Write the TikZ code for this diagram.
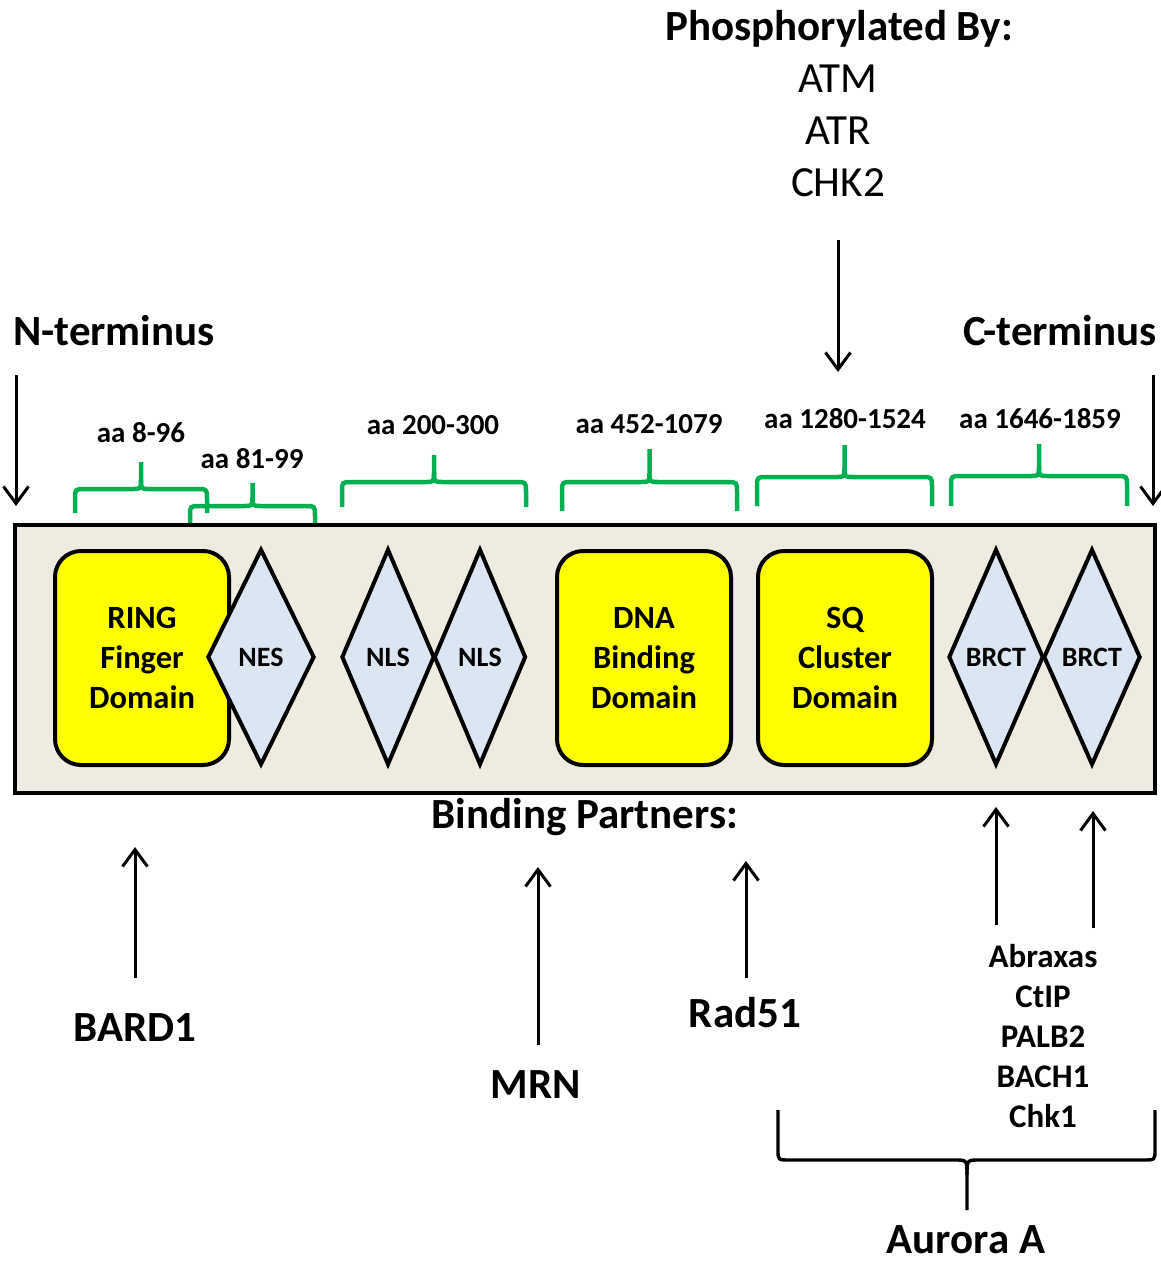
\documentclass[tikz,border=0pt]{standalone}
\usepackage{fontspec}
\setmainfont{Carlito}
\usetikzlibrary{shapes.geometric,arrows.meta}
\definecolor{protfill}{HTML}{EEECE1}
\definecolor{motiffill}{HTML}{DCE6F2}
\definecolor{bracegreen}{HTML}{00B050}
\definecolor{domyellow}{HTML}{FFFF00}
\tikzset{
  bigbold/.style={font=\fontsize{43}{48}\selectfont\bfseries, anchor=base, inner sep=0pt},
  kinase/.style={font=\fontsize{43}{48}\selectfont, anchor=base, inner sep=0pt},
  aalabel/.style={font=\fontsize{29}{32}\selectfont\bfseries, anchor=base, inner sep=0pt},
  domainbox/.style={draw, line width=4pt, fill=domyellow, rounded corners=26pt,
    minimum width=174pt, minimum height=214pt, inner sep=0pt, align=center,
    font=\fontsize{32.5}{40}\selectfont\bfseries},
  motif/.style={draw, line width=4pt, fill=motiffill, diamond, aspect=0.5, inner sep=0pt,
    minimum height=216pt, font=\fontsize{28}{32}\selectfont\bfseries},
  arr/.style={line width=3pt, -{Straight Barb[length=17pt,width=25pt]}},
  gbrace/.style={draw=bracegreen, line width=4.5pt, line join=round},
  kbrace/.style={draw=black, line width=3.4pt, line join=round},
}
\newcommand{\GreenBrace}[5]{% x1 x2 ybottom yflat ytip
  \pgfmathsetmacro{\xm}{(#1+#2)/2}
  \draw[gbrace] (#1,#3) -- (#1,#4+10) .. controls (#1,#4) .. (#1+10,#4)
    -- (\xm-9,#4) .. controls (\xm,#4) .. (\xm,#4-9) -- (\xm,#5);
  \draw[gbrace] (#2,#3) -- (#2,#4+10) .. controls (#2,#4) .. (#2-10,#4)
    -- (\xm+9,#4) .. controls (\xm,#4) .. (\xm,#4-9);
}
\begin{document}
\begin{tikzpicture}[x=1pt,y=-1pt]
\useasboundingbox (0,0) rectangle (1161,1262);

% phosphorylation
\node[bigbold] (phos) at (839,40) {Phosphorylated By:};
\node[kinase] (atm) at (838,92) {ATM};
\node[kinase] (atr) at (838,144) {ATR};
\node[kinase] (chk2) at (838,196) {CHK2};
\coordinate (phosA) at (838,240);
\coordinate (phosB) at (838,372);
\draw[arr] (phosA) -- (phosB);

% termini
\node[bigbold] (nterm) at (114,345) {N-terminus};
\node[bigbold] (cterm) at (1060,345) {C-terminus};
\coordinate (nA) at (16,375);
\coordinate (nB) at (16,506);
\coordinate (cA) at (1153,375);
\coordinate (cB) at (1153,506);
\draw[arr] (nA) -- (nB);
\draw[arr] (cA) -- (cB);

% protein
\node[draw, line width=4.4pt, fill=protfill, minimum width=1140pt, minimum height=268pt, inner sep=0pt] (prot) at (585,659) {};
\node[domainbox] (ring) at (142,658) {RING\\Finger\\Domain};
\node[motif, minimum width=107pt] (nes) at (261,657) {NES};
\node[motif, minimum width=93pt] (nls1) at (388,657) {NLS};
\node[motif, minimum width=92pt] (nls2) at (480,657) {NLS};
\node[domainbox] (dna) at (644,658) {DNA\\Binding\\Domain};
\node[domainbox] (sq) at (845,658) {SQ\\Cluster\\Domain};
\node[motif, minimum width=95pt] (brct1) at (996,657) {BRCT};
\node[motif, minimum width=97pt] (brct2) at (1092,657) {BRCT};

% amino-acid ranges
\GreenBrace{75}{207}{513}{489}{462}
\GreenBrace{190}{315}{523}{506}{483}
\GreenBrace{342}{526}{507}{482}{455}
\GreenBrace{562}{737}{511}{482}{449}
\GreenBrace{757}{932}{506}{477}{445}
\GreenBrace{951}{1127}{506}{476}{444}
\node[aalabel] (aa1) at (141,442) {aa 8-96};
\node[aalabel] (aa2) at (252,468) {aa 81-99};
\node[aalabel] (aa3) at (433,434) {aa 200-300};
\node[aalabel] (aa4) at (649,433) {aa 452-1079};
\node[aalabel] (aa5) at (845,428) {aa 1280-1524};
\node[aalabel] (aa6) at (1040,428) {aa 1646-1859};

% binding partners
\node[bigbold] (bp) at (585,828) {Binding Partners:};
\node[bigbold] (bard) at (135,1041) {BARD1};
\node[bigbold] (mrn) at (536,1098) {MRN};
\node[bigbold] (rad) at (745,1027) {Rad51};
\coordinate (bardA) at (135,978);
\coordinate (bardB) at (135,847);
\coordinate (mrnA) at (538,1045);
\coordinate (mrnB) at (538,867);
\coordinate (radA) at (746,978);
\coordinate (radB) at (746,861);
\coordinate (b1A) at (996,925);
\coordinate (b1B) at (996,807);
\coordinate (b2A) at (1093,928);
\coordinate (b2B) at (1093,811);
\draw[arr] (bardA) -- (bardB);
\draw[arr] (mrnA) -- (mrnB);
\draw[arr] (radA) -- (radB);
\draw[arr] (b1A) -- (b1B);
\draw[arr] (b2A) -- (b2B);
\node[align=center, inner sep=0pt, font=\fontsize{33}{40}\selectfont\bfseries] (brctlist) at (1043,1036) {Abraxas\\CtIP\\PALB2\\BACH1\\Chk1};

% Aurora A brace
\draw[kbrace] (778,1110) -- (778,1150) .. controls (778,1160) .. (790,1160)
  -- (955,1160) .. controls (967,1160) .. (967,1175) -- (967,1210);
\draw[kbrace] (1155,1110) -- (1155,1150) .. controls (1155,1160) .. (1143,1160)
  -- (979,1160) .. controls (967,1160) .. (967,1175);
\node[bigbold] (aurora) at (966,1253) {Aurora A};
\end{tikzpicture}
\end{document}
